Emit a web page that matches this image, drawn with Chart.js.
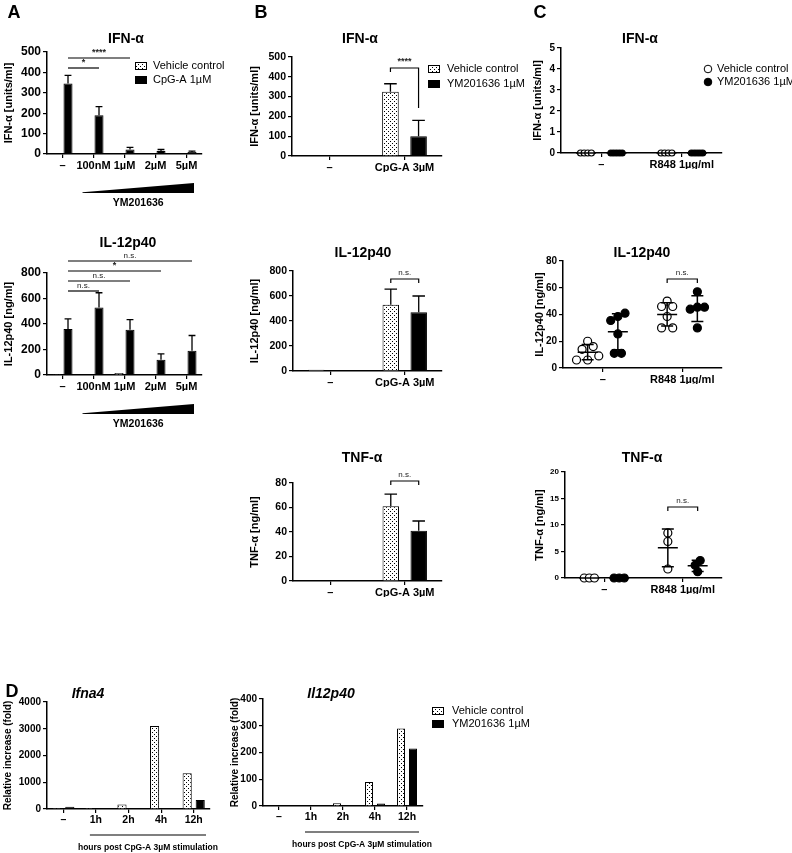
<!DOCTYPE html>
<html>
<head>
<meta charset="utf-8">
<title>YM201636 cytokine panels</title>
<script src="https://cdn.jsdelivr.net/npm/chart.js@4.4.1/dist/chart.umd.min.js"></script>
<style>
  html, body { margin: 0; padding: 0; background: #fff; }
  #fig { position: relative; width: 792px; height: 853px; overflow: hidden; font-family: 'Liberation Sans', Arial, sans-serif; }
  #fig canvas { position: absolute; }
  .lbl { position: absolute; width: 300px; text-align: center; font-weight: bold; color: #000; white-space: nowrap; }
</style>
</head>
<body>
<div id="fig"></div>
<script>
// ---------- values ----------
// A: CpG-A 1µM with a YM201636 titration (mean + SEM)
const doseLabels = ['–', '100nM', '1µM', '2µM', '5µM'];
const aIfnVehicle = [0, 3, 0, 3, 3];
const aIfnCpg = [345, 190, 22, 15, 10];
const aIfnCpgSem = [40, 42, 10, 7, 4];
const aIl12Vehicle = [6, 0, 15, 0, 0];
const aIl12Cpg = [360, 530, 355, 120, 190];
const aIl12CpgSem = [80, 115, 80, 45, 120];

// B: CpG-A 3µM, vehicle vs YM201636 1µM
const stimLabels = ['–', 'CpG-A 3µM'];
const bIfnVehicle = [0, 325];
const bIfnVehicleSem = [0, 40];
const bIfnYm = [0, 100];
const bIfnYmSem = [0, 80];
const bIl12Vehicle = [10, 530];
const bIl12VehicleSem = [0, 125];
const bIl12Ym = [0, 470];
const bIl12YmSem = [0, 130];
const bTnfVehicle = [0, 61];
const bTnfVehicleSem = [0, 10];
const bTnfYm = [0, 41];
const bTnfYmSem = [0, 8];

// C: R848 1µg/ml, single replicates ([unstimulated], [R848])
const r848Labels = ['–', 'R848 1µg/ml'];
const cIfnVehicle = [[0, 0, 0, 0], [0, 0, 0, 0]];
const cIfnYm = [[0, 0, 0, 0, 0], [0, 0, 0, 0, 0]];
const cIl12Vehicle = [[20, 16, 14, 9, 6, 6], [50, 46, 46, 38.5, 30, 30]];
const cIl12Ym = [[41, 38.5, 35.5, 25.5, 11, 11], [57, 45.5, 44, 45.5, 30]];
const cTnfVehicle = [[0, 0, 0], [8.5, 6.9, 1.7]];
const cTnfYm = [[0, 0, 0], [3.3, 2.4, 1.2]];

// D: transcripts after CpG-A 3µM, fold over unstimulated
const hourLabels = ['–', '1h', '2h', '4h', '12h'];
const dIfna4Vehicle = [1, 4, 170, 3100, 1340];
const dIfna4Ym = [85, 2, 4, 10, 340];
const dIl12Vehicle = [1, 2, 10, 90, 290];
const dIl12Ym = [1, 2, 2, 9, 215];

// ---------- helpers ----------
const FONT = "'Liberation Sans', Arial, sans-serif";
Chart.defaults.font.family = FONT;
Chart.defaults.color = '#000';
const fig = document.getElementById('fig');

function addText(text, cx, cy, size, italic) {
  const d = document.createElement('div');
  d.className = 'lbl';
  d.textContent = text;
  d.style.fontSize = size + 'px';
  d.style.lineHeight = (size * 1.2) + 'px';
  d.style.left = (cx - 150) + 'px';
  d.style.top = (cy - size * 0.6) + 'px';
  if (italic) d.style.fontStyle = 'italic';
  fig.appendChild(d);
}

// GraphPad style stipple for the vehicle bars
function dotPattern() {
  const c = document.createElement('canvas');
  c.width = 4; c.height = 4;
  const g = c.getContext('2d');
  g.fillStyle = '#fff';
  g.fillRect(0, 0, 4, 4);
  g.fillStyle = '#000';
  g.fillRect(0, 0, 1, 1);
  g.fillRect(2, 2, 1, 1);
  return g.createPattern(c, 'repeat');
}
const dots = dotPattern();

// spread equal-ish replicates sideways so they don't sit on top of each other
function swarm(values, tol, step) {
  const order = values.map((v, i) => i).sort((a, b) => values[a] - values[b]);
  const offs = new Array(values.length).fill(0);
  let group = [order[0]];
  const flush = () => group.forEach((k, j) => { offs[k] = (j - (group.length - 1) / 2) * step; });
  for (let n = 1; n < order.length; n++) {
    if (values[order[n]] - values[group[group.length - 1]] <= tol) group.push(order[n]);
    else { flush(); group = [order[n]]; }
  }
  flush();
  return offs;
}

function groupX(chart, di, cat) {
  if (chart.config.type === 'bar') return chart.getDatasetMeta(di).data[cat].x;
  return chart.scales.x.getPixelForValue(cat + 1 + chart.data.datasets[di].side);
}

function smallText(ctx, text, x, y) {
  ctx.save();
  ctx.fillStyle = '#222';
  ctx.font = (text.indexOf('*') >= 0 ? 'bold 9px ' : '8px ') + FONT;
  ctx.textAlign = 'center';
  ctx.textBaseline = 'bottom';
  ctx.fillText(text, x, y);
  ctx.restore();
}

// error bars, mean/SD, significance marks, wedge, legends
const extras = {
  id: 'extras',
  afterDatasetsDraw(chart, args, o) {
    const ctx = chart.ctx, xs = chart.scales.x, ys = chart.scales.y, area = chart.chartArea;
    ctx.save();
    ctx.strokeStyle = '#000';
    ctx.fillStyle = '#000';

    chart.data.datasets.forEach((ds, di) => {
      if (!ds.errors) return;
      chart.getDatasetMeta(di).data.forEach((bar, i) => {
        const e = ds.errors[i];
        if (!e) return;
        const yt = ys.getPixelForValue(ds.data[i] + e);
        const cap = bar.width * 0.38;
        ctx.lineWidth = 1.3;
        ctx.beginPath();
        ctx.moveTo(bar.x, bar.y);
        ctx.lineTo(bar.x, yt);
        ctx.moveTo(bar.x - cap, yt);
        ctx.lineTo(bar.x + cap, yt);
        ctx.stroke();
      });
    });

    if (o.meanSd) {
      chart.data.datasets.forEach(ds => {
        ds.groups.forEach((vals, g) => {
          const n = vals.length;
          const m = vals.reduce((s, v) => s + v, 0) / n;
          const sd = Math.sqrt(vals.reduce((s, v) => s + (v - m) * (v - m), 0) / (n - 1));
          const cx = xs.getPixelForValue(g + 1 + ds.side);
          const yM = ys.getPixelForValue(m);
          const yHi = ys.getPixelForValue(m + sd), yLo = ys.getPixelForValue(m - sd);
          ctx.lineWidth = 1.5;
          ctx.beginPath();
          ctx.moveTo(cx - 10, yM);
          ctx.lineTo(cx + 10, yM);
          if (sd > 0) {
            ctx.moveTo(cx, yHi); ctx.lineTo(cx, yLo);
            ctx.moveTo(cx - 6, yHi); ctx.lineTo(cx + 6, yHi);
            ctx.moveTo(cx - 6, yLo); ctx.lineTo(cx + 6, yLo);
          }
          ctx.stroke();
        });
      });
    }

    (o.sigLines || []).forEach(s => {
      const xa = groupX(chart, 1, 0), xb = groupX(chart, 1, s.to);
      const yy = area.top + s.dy;
      ctx.lineWidth = 1.2;
      ctx.beginPath();
      ctx.moveTo(xa, yy);
      ctx.lineTo(xb, yy);
      ctx.stroke();
      smallText(ctx, s.text, (xa + xb) / 2, yy - 1);
    });

    (o.brackets || []).forEach(b => {
      const xa = groupX(chart, 0, b.cat), xb = groupX(chart, 1, b.cat);
      const yy = area.top + b.dy;
      ctx.lineWidth = 1.2;
      ctx.beginPath();
      ctx.moveTo(xa, yy + b.legs[0]);
      ctx.lineTo(xa, yy);
      ctx.lineTo(xb, yy);
      ctx.lineTo(xb, yy + b.legs[1]);
      ctx.stroke();
      smallText(ctx, b.text, (xa + xb) / 2, yy - 2);
    });

    if (o.wedge) {
      const x0 = xs.getPixelForValue(1) - 11, x1 = area.right - 8;
      const yb = area.bottom + 39;
      ctx.beginPath();
      ctx.moveTo(x0, yb);
      ctx.lineTo(x0, yb - 0.8);
      ctx.lineTo(x1, yb - 10);
      ctx.lineTo(x1, yb);
      ctx.closePath();
      ctx.fill();
      ctx.font = 'bold 10.5px ' + FONT;
      ctx.textAlign = 'center';
      ctx.textBaseline = 'middle';
      ctx.fillText(o.wedge, (x0 + x1) / 2, yb + 10);
    }

    if (o.underline) {
      const x0 = xs.getPixelForValue(1) - 6, x1 = area.right - 4;
      const yl = area.bottom + 26;
      ctx.lineWidth = 1.2;
      ctx.beginPath();
      ctx.moveTo(x0, yl);
      ctx.lineTo(x1, yl);
      ctx.stroke();
      ctx.font = 'bold 8.5px ' + FONT;
      ctx.textAlign = 'center';
      ctx.textBaseline = 'middle';
      ctx.fillText(o.underline, (x0 + x1) / 2, yl + 13);
    }

    if (o.legend) {
      const L = o.legend, ox = chart.canvas.offsetLeft, oy = chart.canvas.offsetTop;
      chart.data.datasets.forEach((ds, i) => {
        const cy = L.y + i * L.gap - oy, bx = L.x - ox;
        ctx.lineWidth = 1;
        if (L.dot) {
          ctx.beginPath();
          ctx.arc(bx + 4, cy, 3.8, 0, Math.PI * 2);
          ctx.fillStyle = ds.backgroundColor;
          ctx.fill();
          ctx.stroke();
        } else {
          ctx.fillStyle = ds.backgroundColor;
          ctx.fillRect(bx, cy - 4, 12, 8);
          ctx.strokeRect(bx + 0.5, cy - 3.5, 11, 7);
        }
        ctx.fillStyle = '#000';
        ctx.font = '11px ' + FONT;
        ctx.textAlign = 'left';
        ctx.textBaseline = 'middle';
        ctx.fillText(ds.label, L.tx - ox, cy);
      });
    }
    ctx.restore();
  }
};

function yAxis(max, step, title, tickSize) {
  return {
    min: 0, max: max,
    ticks: { stepSize: step, color: '#000', padding: 2, format: { useGrouping: false },
             font: { size: tickSize, weight: 'bold' } },
    grid: { drawOnChartArea: false, drawTicks: true, tickLength: 4, color: '#000', lineWidth: 1.2 },
    border: { display: true, color: '#000', width: 1.5 },
    title: { display: true, text: title, color: '#000', padding: { top: 2, bottom: 0 }, font: { size: 11, weight: 'bold' } }
  };
}

function xCategory(size) {
  return {
    type: 'category',
    ticks: { color: '#000', padding: 1, maxRotation: 0, autoSkip: false, font: { size: size, weight: 'bold' } },
    grid: { offset: false, drawOnChartArea: false, drawTicks: true, tickLength: 4, color: '#000', lineWidth: 1.2 },
    border: { display: true, color: '#000', width: 1.5 }
  };
}

function xGroups(labels, size) {
  return {
    type: 'linear', min: 0.5, max: 2.5,
    afterBuildTicks: s => { s.ticks = labels.map((_, i) => ({ value: i + 1 })); },
    ticks: { color: '#000', padding: 1, maxRotation: 0, autoSkip: false, font: { size: size, weight: 'bold' },
             callback: v => labels[v - 1] },
    grid: { drawOnChartArea: false, drawTicks: true, tickLength: 4, color: '#000', lineWidth: 1.2 },
    border: { display: true, color: '#000', width: 1.5 }
  };
}

function barSet(label, data, errors, fill, cp, bp) {
  return { label, data, errors, backgroundColor: fill, borderColor: '#000', borderWidth: 1,
           borderSkipped: 'start', categoryPercentage: cp, barPercentage: bp };
}

function scatterSet(label, groups, fill, side, step, tol, radius) {
  const pts = [];
  groups.forEach((vals, g) => {
    const offs = swarm(vals, tol, step);
    vals.forEach((v, i) => pts.push({ x: g + 1 + side + offs[i], y: v }));
  });
  return { label, data: pts, groups, side, backgroundColor: fill, borderColor: '#000', borderWidth: 1.2,
           pointRadius: radius, clip: false };
}

function makeChart(geo, type, labels, datasets, xScale, yScale, extra) {
  const c = document.createElement('canvas');
  const x0 = geo.L - geo.yw, y0 = geo.T - geo.top;
  const w = geo.R + geo.right - x0, h = geo.B + geo.xh + geo.bottom - y0;
  c.width = w;
  c.height = h;
  c.style.left = x0 + 'px';
  c.style.top = y0 + 'px';
  fig.appendChild(c);
  xScale.afterFit = s => { s.height = geo.xh; };
  yScale.afterFit = s => { s.width = geo.yw; };
  return new Chart(c, {
    type: type,
    data: { labels: labels, datasets: datasets },
    options: {
      responsive: false, animation: false, events: [],
      layout: { padding: { left: 0, top: geo.top, right: geo.right, bottom: geo.bottom } },
      scales: { x: xScale, y: yScale },
      plugins: { legend: { display: false }, tooltip: { enabled: false }, extras: extra }
    },
    plugins: [extras]
  });
}

// ---------- panel A ----------
makeChart({ L: 47, T: 52, R: 202, B: 154, yw: 47, xh: 16, top: 30, right: 85, bottom: 42 }, 'bar', doseLabels,
  [barSet('Vehicle control', aIfnVehicle, null, dots, 0.71, 0.82),
   barSet('CpG-A 1µM', aIfnCpg, aIfnCpgSem, '#000', 0.71, 0.82)],
  xCategory(11), yAxis(500, 100, 'IFN-α [units/ml]', 12),
  { sigLines: [{ to: 2, dy: 6, text: '****' }, { to: 1, dy: 16, text: '*' }],
    wedge: 'YM201636', legend: { x: 135, tx: 153, y: 66, gap: 14 } });

makeChart({ L: 47, T: 273, R: 202, B: 375, yw: 47, xh: 16, top: 25, right: 10, bottom: 42 }, 'bar', doseLabels,
  [barSet('Vehicle control', aIl12Vehicle, null, dots, 0.71, 0.82),
   barSet('CpG-A 1µM', aIl12Cpg, aIl12CpgSem, '#000', 0.71, 0.82)],
  xCategory(11), yAxis(800, 200, 'IL-12p40 [ng/ml]', 12),
  { sigLines: [{ to: 4, dy: -12, text: 'n.s.' }, { to: 3, dy: -2, text: '*' },
               { to: 2, dy: 8, text: 'n.s.' }, { to: 1, dy: 18, text: 'n.s.' }],
    wedge: 'YM201636' });

// ---------- panel B ----------
makeChart({ L: 292, T: 57, R: 442, B: 156, yw: 46, xh: 16, top: 20, right: 125, bottom: 5 }, 'bar', stimLabels,
  [barSet('Vehicle control', bIfnVehicle, bIfnVehicleSem, dots, 0.75, 0.59),
   barSet('YM201636 1µM', bIfnYm, bIfnYmSem, '#000', 0.75, 0.59)],
  xCategory(11), yAxis(500, 100, 'IFN-α [units/ml]', 10.5),
  { brackets: [{ cat: 1, dy: 11, legs: [4, 40], text: '****' }], legend: { x: 428, tx: 447, y: 69, gap: 15 } });

makeChart({ L: 293, T: 271, R: 442, B: 371, yw: 47, xh: 16, top: 20, right: 10, bottom: 5 }, 'bar', stimLabels,
  [barSet('Vehicle control', bIl12Vehicle, bIl12VehicleSem, dots, 0.75, 0.59),
   barSet('YM201636 1µM', bIl12Ym, bIl12YmSem, '#000', 0.75, 0.59)],
  xCategory(11), yAxis(800, 200, 'IL-12p40 [ng/ml]', 10.5),
  { brackets: [{ cat: 1, dy: 8, legs: [4, 4], text: 'n.s.' }] });

makeChart({ L: 293, T: 483, R: 442, B: 581, yw: 47, xh: 16, top: 20, right: 10, bottom: 5 }, 'bar', stimLabels,
  [barSet('Vehicle control', bTnfVehicle, bTnfVehicleSem, dots, 0.75, 0.59),
   barSet('YM201636 1µM', bTnfYm, bTnfYmSem, '#000', 0.75, 0.59)],
  xCategory(11), yAxis(80, 20, 'TNF-α [ng/ml]', 10.5),
  { brackets: [{ cat: 1, dy: -2, legs: [4, 4], text: 'n.s.' }] });

// ---------- panel C ----------
makeChart({ L: 561, T: 48, R: 722, B: 153, yw: 32, xh: 16, top: 15, right: 70, bottom: 5 }, 'scatter', undefined,
  [scatterSet('Vehicle control', cIfnVehicle, '#fff', -0.19, 0.045, 0.1, 3),
   scatterSet('YM201636 1µM', cIfnYm, '#000', 0.19, 0.035, 0.1, 3)],
  xGroups(r848Labels, 11), yAxis(5, 1, 'IFN-α [units/ml]', 10),
  { meanSd: true, legend: { x: 704, tx: 717, y: 69, gap: 13, dot: true } });

makeChart({ L: 563, T: 261, R: 722, B: 368, yw: 32, xh: 16, top: 25, right: 10, bottom: 5 }, 'scatter', undefined,
  [scatterSet('Vehicle control', cIl12Vehicle, '#fff', -0.19, 0.14, 3, 4),
   scatterSet('YM201636 1µM', cIl12Ym, '#000', 0.19, 0.09, 3, 4)],
  xGroups(r848Labels, 11), yAxis(80, 20, 'IL-12p40 [ng/ml]', 10),
  { meanSd: true, brackets: [{ cat: 1, dy: 18, legs: [4, 4], text: 'n.s.' }] });

makeChart({ L: 565, T: 472, R: 722, B: 578, yw: 34, xh: 16, top: 15, right: 10, bottom: 5 }, 'scatter', undefined,
  [scatterSet('Vehicle control', cTnfVehicle, '#fff', -0.19, 0.065, 1, 4),
   scatterSet('YM201636 1µM', cTnfYm, '#000', 0.19, 0.065, 1, 4)],
  xGroups(r848Labels, 11), yAxis(20, 5, 'TNF-α [ng/ml]', 8),
  { meanSd: true, brackets: [{ cat: 1, dy: 35, legs: [4, 4], text: 'n.s.' }] });

// ---------- panel D ----------
const hoursText = 'hours post CpG-A 3µM stimulation';
const relTitle = yAxis(4000, 1000, 'Relative increase (fold)', 10);
relTitle.title.font = { size: 10, weight: 'bold' };
makeChart({ L: 47, T: 702, R: 210, B: 809, yw: 47, xh: 16, top: 10, right: 10, bottom: 28 }, 'bar', hourLabels,
  [barSet('Vehicle control', dIfna4Vehicle, null, dots, 0.8, 0.7),
   barSet('YM201636 1µM', dIfna4Ym, null, '#000', 0.8, 0.7)],
  xCategory(10.5), relTitle, { underline: hoursText });

const relTitle2 = yAxis(400, 100, 'Relative increase (fold)', 10);
relTitle2.title.font = { size: 10, weight: 'bold' };
makeChart({ L: 263, T: 699, R: 423, B: 806, yw: 36, xh: 16, top: 10, right: 140, bottom: 31 }, 'bar', hourLabels,
  [barSet('Vehicle control', dIl12Vehicle, null, dots, 0.75, 0.67),
   barSet('YM201636 1µM', dIl12Ym, null, '#000', 0.75, 0.67)],
  xCategory(10.5), relTitle2, { underline: hoursText, legend: { x: 432, tx: 452, y: 711, gap: 13 } });

// ---------- titles and panel letters ----------
addText('A', 14, 13, 18);
addText('B', 261, 13, 18);
addText('C', 540, 13, 18);
addText('D', 12, 692, 18);
addText('IFN-α', 126, 38, 14);
addText('IL-12p40', 128, 242, 14);
addText('IFN-α', 360, 38, 14);
addText('IL-12p40', 363, 252, 14);
addText('TNF-α', 362, 457, 14);
addText('IFN-α', 640, 38, 14);
addText('IL-12p40', 642, 252, 14);
addText('TNF-α', 642, 457, 14);
addText('Ifna4', 88, 693, 14, true);
addText('Il12p40', 331, 693, 14, true);
</script>
</body>
</html>
